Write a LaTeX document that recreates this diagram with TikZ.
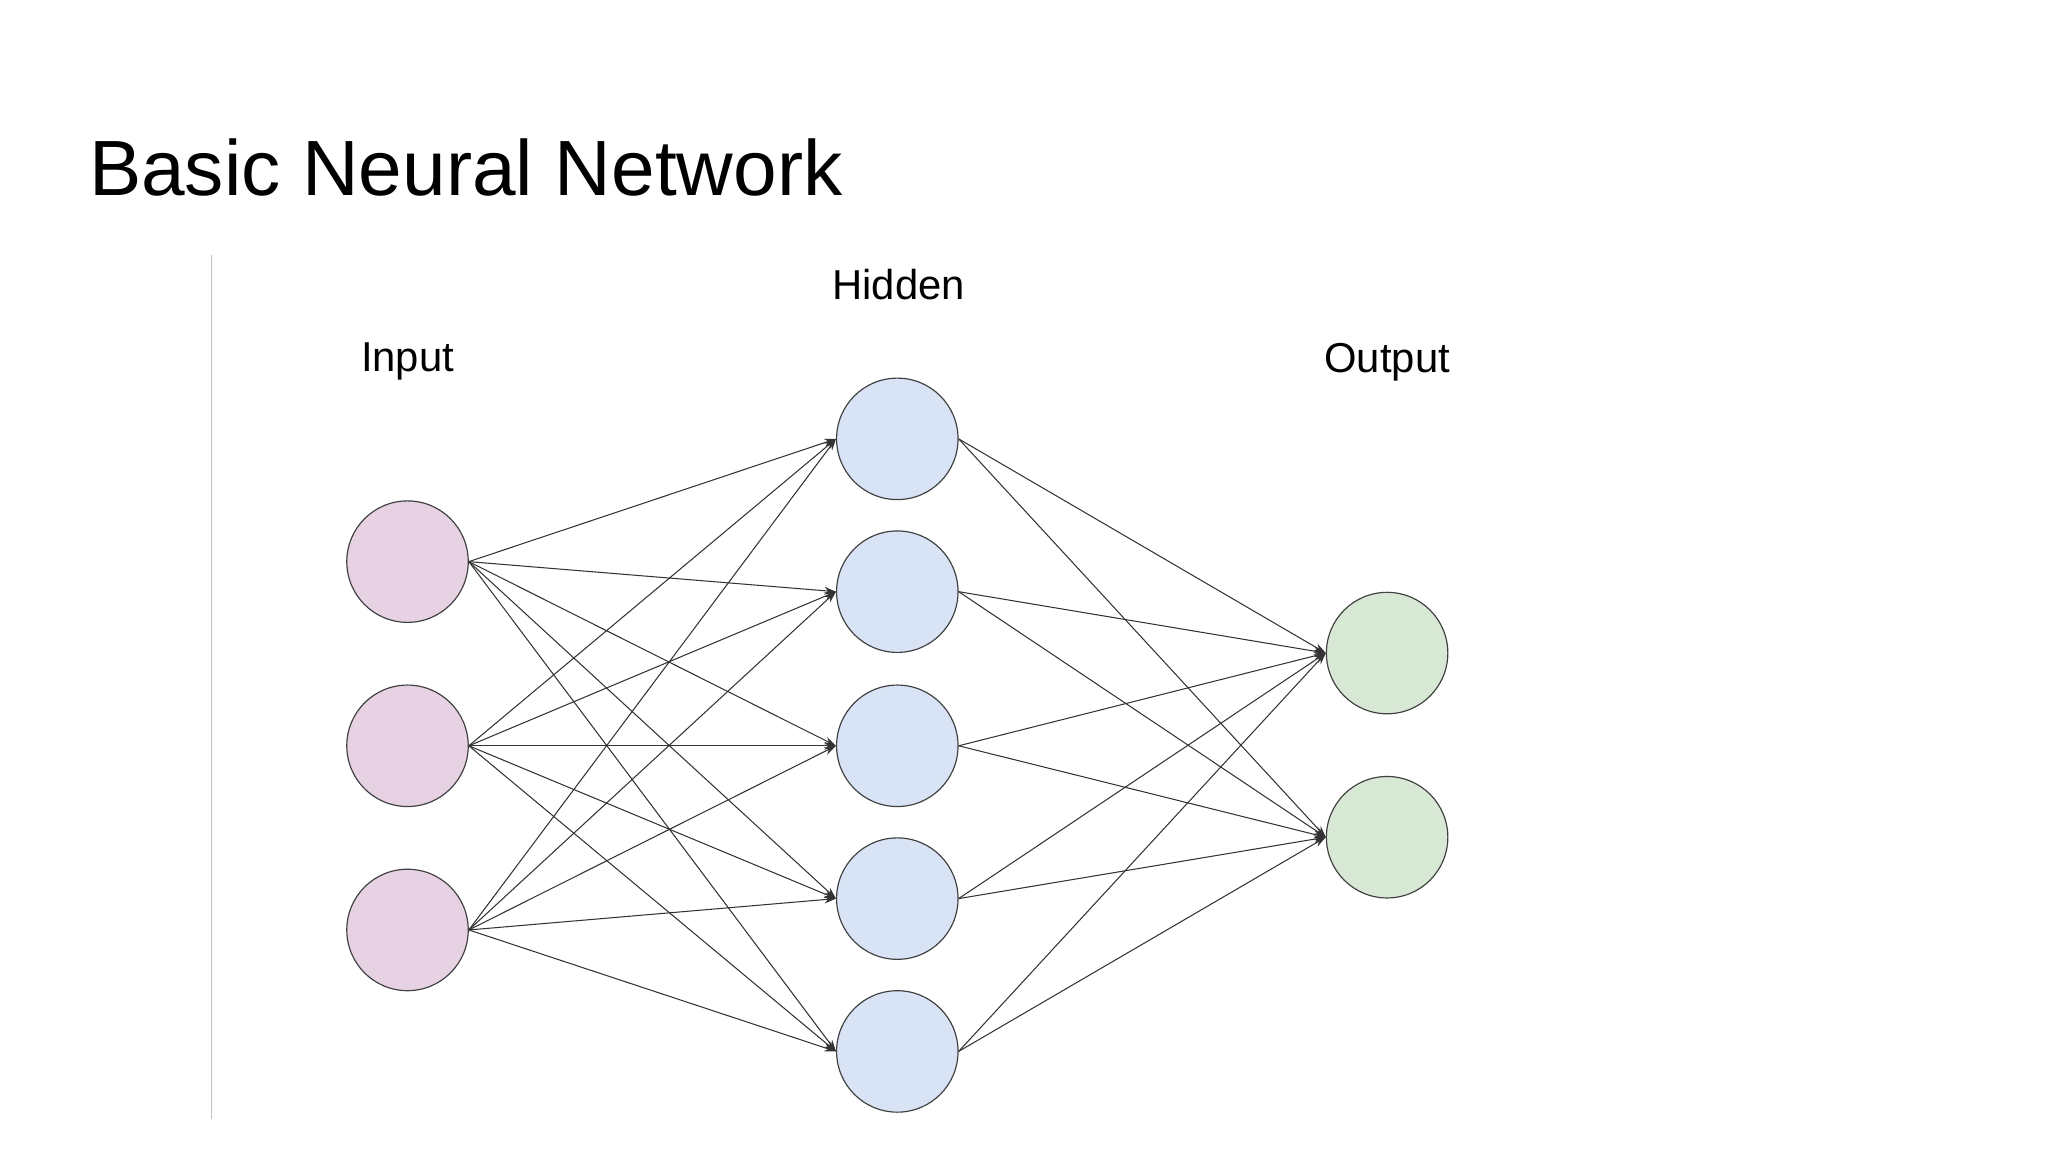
\documentclass[tikz,border=0pt]{standalone}
\usepackage{fontspec}
\setmainfont{Liberation Sans}
\usetikzlibrary{arrows.meta}
\begin{document}
\begin{tikzpicture}[x=1pt,y=-1pt,
  neuron/.style={circle,draw=black!75,line width=0.9pt,minimum size=93pt,inner sep=0pt},
  inp/.style={neuron,fill=pink!30!magenta!10!white,fill={rgb,255:red,230;green,210;blue,226}},
  hid/.style={neuron,fill={rgb,255:red,216;green,228;blue,245}},
  outn/.style={neuron,fill={rgb,255:red,215;green,232;blue,212}},
  conn/.style={-{Stealth[length=9pt,width=6pt]},line width=0.8pt,draw=black!80},
  lab/.style={font=\fontsize{32}{36}\selectfont}]
\useasboundingbox (0,0) rectangle (1568,882);
\node[anchor=base west,font=\fontsize{60}{70}\selectfont,inner sep=0pt] (title) at (68,150) {Basic Neural Network};
\coordinate (lt) at (162,195); \coordinate (lb) at (162,857);
\draw[black!25,line width=1pt] (lt) -- (lb);
\foreach \i/\y in {1/430,2/571,3/712} \node[inp] (i\i) at (312,\y) {};
\foreach \i/\y in {1/336,2/453,3/571,4/688,5/805} \node[hid] (h\i) at (687,\y) {};
\foreach \i/\y in {1/500,2/641} \node[outn] (o\i) at (1062,\y) {};
\node[lab] (li) at (312,277) {Input};
\node[lab] (lh) at (688,218) {Hidden};
\node[lab] (lo) at (1062,277) {Output};
\foreach \a in {1,2,3} \foreach \b in {1,...,5} \draw[conn] (i\a.east) -- (h\b.west);
\foreach \a in {1,...,5} \foreach \b in {1,2} \draw[conn] (h\a.east) -- (o\b.west);
\end{tikzpicture}
\end{document}
